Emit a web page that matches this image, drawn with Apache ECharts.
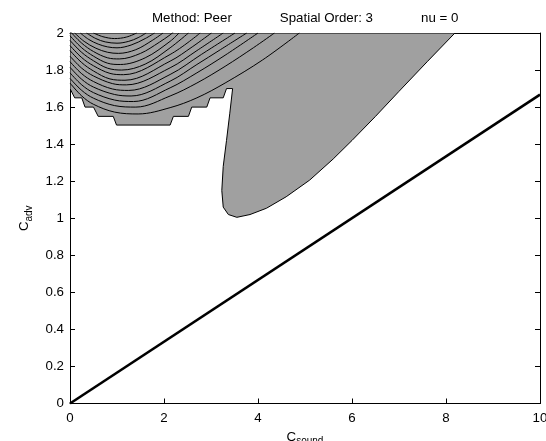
<!DOCTYPE html>
<html>
<head>
<meta charset="utf-8">
<script src="https://cdn.jsdelivr.net/npm/echarts@6.0.0/dist/echarts.min.js"></script>
<style>
  html, body { margin: 0; padding: 0; background: #fff; }
  #chart { width: 546px; height: 441px; }
</style>
</head>
<body>
<div id="chart"></div>
<script>
// ---- data ----
const titleText = 'Method: Peer             Spatial Order: 3             nu = 0';
const yTickLabels = ['0', '0.2', '0.4', '0.6', '0.8', '1', '1.2', '1.4', '1.6', '1.8', '2'];

// thick reference line c_adv = c_sound / 6
const diagLine = [[0, 0], [10, 1.667]];

// outline of the shaded (unstable) region, clockwise from top-left
const regionOutline = [
  [0, 2], [8.19, 2], [7.6, 1.845], [7.0, 1.685], [6.5, 1.55], [6.0, 1.42],
  [5.6, 1.32], [5.1, 1.206], [4.6, 1.116], [4.18, 1.054], [3.83, 1.02],
  [3.55, 1.005], [3.37, 1.02], [3.26, 1.06], [3.23, 1.15], [3.26, 1.28],
  [3.33, 1.42], [3.4, 1.567], [3.46, 1.70], [3.33, 1.70], [3.26, 1.65],
  [2.98, 1.65], [2.91, 1.60], [2.59, 1.60], [2.52, 1.55], [2.2, 1.55],
  [2.13, 1.503], [0.99, 1.503], [0.92, 1.55], [0.6, 1.55], [0.5, 1.60],
  [0.32, 1.60], [0.25, 1.65], [0.1, 1.65], [0, 1.70]
];

// contour lines inside the left part of the region, lowest first
const contourLines = [
  [[0, 1.73], [0.25, 1.66], [0.5, 1.615], [0.95, 1.573], [1.45, 1.563], [2.13, 1.597], [2.7, 1.65], [3.3, 1.73], [4.1, 1.855], [4.88, 2.0]],
  [[0, 1.755], [0.25, 1.69], [0.5, 1.648], [0.95, 1.608], [1.4, 1.6], [2.13, 1.66], [2.7, 1.73], [3.3, 1.82], [3.9, 1.92], [4.35, 2.0]],
  [[0, 1.785], [0.25, 1.72], [0.5, 1.678], [0.95, 1.638], [1.35, 1.63], [2.13, 1.704], [2.7, 1.785], [3.3, 1.88], [4.0, 2.0]],
  [[0, 1.815], [0.25, 1.75], [0.5, 1.708], [0.95, 1.668], [1.3, 1.66], [2.13, 1.74], [2.7, 1.83], [3.2, 1.91], [3.76, 2.0]],
  [[0, 1.845], [0.25, 1.78], [0.5, 1.738], [0.9, 1.698], [1.25, 1.69], [2.13, 1.776], [2.8, 1.885], [3.51, 2.0]],
  [[0, 1.875], [0.25, 1.81], [0.5, 1.768], [0.9, 1.727], [1.2, 1.72], [2.13, 1.812], [2.7, 1.905], [3.26, 2.0]],
  [[0, 1.905], [0.25, 1.84], [0.5, 1.795], [0.85, 1.752], [1.17, 1.745], [2.13, 1.848], [2.6, 1.925], [3.01, 2.0]],
  [[0, 1.932], [0.25, 1.867], [0.5, 1.823], [0.85, 1.782], [1.14, 1.775], [2.13, 1.884], [2.77, 2.0]],
  [[0, 1.96], [0.25, 1.895], [0.5, 1.85], [0.8, 1.81], [1.1, 1.8], [1.6, 1.832], [2.13, 1.92], [2.52, 2.0]],
  [[0, 1.985], [0.25, 1.92], [0.5, 1.875], [0.8, 1.837], [1.07, 1.83], [1.6, 1.866], [2.13, 1.955], [2.32, 2.0]],
  [[0, 2.01], [0.25, 1.945], [0.5, 1.9], [0.8, 1.866], [1.05, 1.86], [1.5, 1.89], [1.9, 1.95], [2.13, 1.99], [2.2, 2.005]],
  [[0.1, 2.0], [0.3, 1.955], [0.55, 1.918], [0.8, 1.896], [1.03, 1.89], [1.4, 1.91], [1.75, 1.96], [1.98, 2.0]],
  [[0.22, 2.0], [0.4, 1.965], [0.6, 1.94], [0.8, 1.925], [1.0, 1.92], [1.3, 1.935], [1.6, 1.97], [1.8, 2.0]],
  [[0.35, 2.0], [0.55, 1.97], [0.75, 1.952], [1.0, 1.945], [1.25, 1.955], [1.45, 1.975], [1.62, 2.0]],
  [[0.5, 2.0], [0.7, 1.98], [0.95, 1.97], [1.2, 1.978], [1.42, 2.0]]
];

// ---- chart ----
const FONT = 'Liberation Sans, Arial, Helvetica, sans-serif';
const chart = echarts.init(document.getElementById('chart'));

const boxAxis = {
  min: 0,
  axisLine: { show: true, onZero: false, lineStyle: { color: '#000', width: 1 } },
  axisTick: { show: true, inside: true, length: 5, lineStyle: { color: '#000' } },
  splitLine: { show: false },
  axisLabel: { show: false }
};

const contourSeries = contourLines.map(pts => ({
  type: 'line',
  data: pts,
  smooth: 0.35,
  showSymbol: false,
  clip: true,
  silent: true,
  z: 3,
  lineStyle: { color: '#000', width: 1 }
}));

chart.setOption({
  backgroundColor: '#fff',
  animation: false,
  title: {
    text: titleText,
    left: 152,
    top: 12,
    padding: 0,
    textStyle: { fontFamily: FONT, fontSize: 13.3, fontWeight: 'normal', color: '#000' }
  },
  grid: { left: 70, top: 33, right: 6, bottom: 37.5, containLabel: false, outerBoundsMode: 'none' },
  xAxis: [
    Object.assign({}, boxAxis, {
      type: 'value', position: 'bottom', max: 10, interval: 2,
      axisLabel: { show: true, color: '#000', fontFamily: FONT, fontSize: 13.3, margin: 8 },
      name: '{c|C}{s|sound}',
      nameLocation: 'middle',
      nameGap: 24,
      nameTextStyle: {
        rich: {
          c: { fontFamily: FONT, fontSize: 13.3, color: '#000' },
          s: { fontFamily: FONT, fontSize: 10, color: '#000', padding: [9, 0, 0, 0] }
        }
      }
    }),
    Object.assign({}, boxAxis, { type: 'value', position: 'top', max: 10, interval: 2 })
  ],
  yAxis: [
    Object.assign({}, boxAxis, {
      type: 'value', position: 'left', max: 2, interval: 0.2,
      axisLabel: {
        show: true, color: '#000', fontFamily: FONT, fontSize: 13.3, margin: 6,
        formatter: v => yTickLabels[Math.round(v / 0.2)]
      },
      name: '{c|C}{s|adv}',
      nameLocation: 'middle',
      nameRotate: 90,
      nameGap: 36,
      nameTextStyle: {
        rich: {
          c: { fontFamily: FONT, fontSize: 13.3, color: '#000' },
          s: { fontFamily: FONT, fontSize: 10, color: '#000', padding: [9, 0, 0, 0] }
        }
      }
    }),
    Object.assign({}, boxAxis, { type: 'value', position: 'right', max: 2, interval: 0.2 })
  ],
  series: [
    {
      type: 'custom',
      coordinateSystem: 'cartesian2d',
      data: [[0, 0]],
      clip: true,
      silent: true,
      z: 2,
      renderItem: (params, api) => ({
        type: 'polygon',
        shape: { points: regionOutline.map(p => api.coord(p)) },
        style: { fill: '#a0a0a0', stroke: '#000', lineWidth: 1 }
      })
    },
    ...contourSeries,
    {
      type: 'line',
      data: diagLine,
      showSymbol: false,
      clip: true,
      silent: true,
      z: 4,
      lineStyle: { color: '#000', width: 2.6 }
    }
  ]
});
</script>
</body>
</html>
